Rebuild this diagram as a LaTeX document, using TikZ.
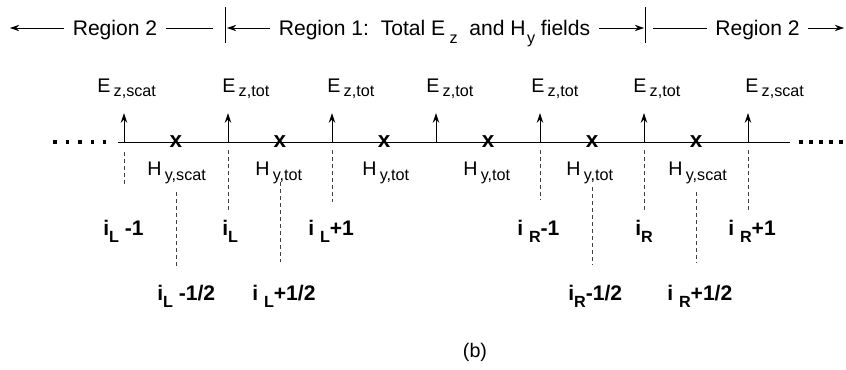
\documentclass[tikz,border=0pt]{standalone}
\usepackage{fontspec}
\setmainfont{Liberation Sans}
\usepackage{tikz}
\usetikzlibrary{arrows.meta,calc}
\newcommand{\sub}[2][0.45ex]{\raisebox{-#1}{\fontsize{11.5}{12}\selectfont #2}}

\begin{document}
\begin{tikzpicture}[x=0.025cm,y=-0.025cm,
  every node/.style={font=\fontsize{14}{16}\selectfont,inner sep=0pt},
  top/.style={font=\fontsize{15}{18}\selectfont,anchor=base,inner xsep=6pt},
  lab/.style={anchor=base west},
  idx/.style={font=\fontsize{15}{17}\selectfont\bfseries,anchor=base west},
  cross/.style={font=\fontsize{16}{18}\selectfont\bfseries},
  arr/.style={-{Stealth[length=6.5pt,width=4.5pt]},line width=0.6pt},
  earr/.style={-{Stealth[length=7pt,width=4.6pt]},line width=0.7pt},
  dsh/.style={dash pattern=on 2.5pt off 2.5pt,line width=0.6pt,black!75},
  dotrow/.style={line width=2.6pt}]
\useasboundingbox (0,0) rectangle (846,369);
% region bar
\coordinate (tipL) at (10,28);
\coordinate (bL)   at (225,28);
\coordinate (bR)   at (645,28);
\coordinate (tipR) at (844,28);
\node[top] (regL)  at (115,35)   {Region 2};
\node[top] (title) at (434.5,35) {Region 1:\ \ Total E\hspace{3pt}\sub[0.75ex]{z}\ \ and H\hspace{1pt}\sub[0.75ex]{y} fields};
\node[top] (regR)  at (757.5,35) {Region 2};
\draw[line width=0.7pt] ($(bL)+(0,-21)$) -- ($(bL)+(0,15)$);
\draw[line width=0.7pt] ($(bR)+(0,-21)$) -- ($(bR)+(0,15)$);
\draw[arr] (regL.west |- bL) -- (tipL);
\draw[line width=0.5pt] (regL.east |- bL) -- ($(bL)+(-12,0)$);
\draw[arr] (title.west |- bL) -- ($(bL)+(2,0)$);
\draw[arr] (title.east |- bR) -- ($(bR)+(-1,0)$);
\draw[line width=0.5pt] (regR.west |- bR) -- ($(bR)+(8,0)$);
\draw[arr] (regR.east |- bR) -- (tipR);
% grid points
\coordinate (e0) at (124,142);
\coordinate (e1) at (228,142);
\coordinate (e2) at (332,142);
\coordinate (e3) at (436,142);
\coordinate (e4) at (540,142);
\coordinate (e5) at (644,142);
\coordinate (e6) at (748,142);
\coordinate (h0) at (176,142);
\coordinate (h1) at (280,142);
\coordinate (h2) at (384,142);
\coordinate (h3) at (488,142);
\coordinate (h4) at (592,142);
\coordinate (h5) at (696,142);
\coordinate (axL) at (118,142);
\coordinate (axR) at (790,142);
\draw[line width=0.6pt] (axL) -- (axR);
\draw[dotrow,dash pattern=on 2.6pt off 6.3pt] (53,142) -- (106,142);
\draw[dotrow,dash pattern=on 2.6pt off 4.5pt] (799,142) -- (846,142);
% E arrows
\draw[earr] (e0) -- ($(e0)+(0,-29)$);
\draw[earr] (e1) -- ($(e1)+(0,-29)$);
\draw[earr] (e2) -- ($(e2)+(0,-29)$);
\draw[earr] (e3) -- ($(e3)+(0,-29)$);
\draw[earr] (e4) -- ($(e4)+(0,-29)$);
\draw[earr] (e5) -- ($(e5)+(0,-29)$);
\draw[earr] (e6) -- ($(e6)+(0,-29)$);
\node[lab] (E0) at (97,92)  {E\,\sub{z,scat}};
\node[lab] (E1) at (222,92) {E\,\sub{z,tot}};
\node[lab] (E2) at (327,92) {E\,\sub{z,tot}};
\node[lab] (E3) at (426,92) {E\,\sub{z,tot}};
\node[lab] (E4) at (531,92) {E\,\sub{z,tot}};
\node[lab] (E5) at (633,92) {E\,\sub{z,tot}};
\node[lab] (E6) at (745,92) {E\,\sub{z,scat}};
% H points
\node[cross] (x0) at (h0) {x};
\node[cross] (x1) at (h1) {x};
\node[cross] (x2) at (h2) {x};
\node[cross] (x3) at (h3) {x};
\node[cross] (x4) at (h4) {x};
\node[cross] (x5) at (h5) {x};
\node[lab] (H0) at (147,175) {H\,\sub[0.55ex]{y,scat}};
\node[lab] (H1) at (255,175) {H\,\sub[0.55ex]{y,tot}};
\node[lab] (H2) at (362,175) {H\,\sub[0.55ex]{y,tot}};
\node[lab] (H3) at (463,175) {H\,\sub[0.55ex]{y,tot}};
\node[lab] (H4) at (566,175) {H\,\sub[0.55ex]{y,tot}};
\node[lab] (H5) at (668,175) {H\,\sub[0.55ex]{y,scat}};
% index guides
\draw[dsh] ($(e0)+(0,10)$) -- ($(e0)+(0,45)$);
\draw[dsh] ($(e1)+(0,8)$)  -- ($(e1)+(0,68)$);
\draw[dsh] ($(e2)+(0,8)$)  -- ($(e2)+(0,60)$);
\draw[dsh] ($(e4)+(0,8)$)  -- ($(e4)+(0,58)$);
\draw[dsh] ($(e5)+(0,8)$)  -- ($(e5)+(0,70)$);
\draw[dsh] ($(e6)+(0,8)$)  -- ($(e6)+(0,71)$);
\draw[dsh] ($(h0)+(0,50)$) -- ($(h0)+(0,126)$);
\draw[dsh] ($(h1)+(0,40)$) -- ($(h1)+(0,120)$);
\draw[dsh] ($(h4)+(0,45)$) -- ($(h4)+(0,123)$);
\draw[dsh] ($(h5)+(0,50)$) -- ($(h5)+(0,121)$);
\node[idx] (iLm1) at (103,235) {i\sub[0.7ex]{L} -1};
\node[idx] (iL0)  at (222,235) {i\sub[0.7ex]{L}};
\node[idx] (iLp1) at (308,235) {i \sub[0.7ex]{L}+1};
\node[idx] (iRm1) at (517,235) {i \sub[0.7ex]{R}-1};
\node[idx] (iR0)  at (635,235) {i\sub[0.7ex]{R}};
\node[idx] (iRp1) at (728,235) {i \sub[0.7ex]{R}+1};
\node[idx] (iLmh) at (157,300) {i\sub[0.7ex]{L} -1/2};
\node[idx] (iLph) at (252,300) {i \sub[0.7ex]{L}+1/2};
\node[idx] (iRmh) at (568,300) {i\sub[0.7ex]{R}-1/2};
\node[idx] (iRph) at (667,300) {i \sub[0.7ex]{R}+1/2};
\node[font=\fontsize{14}{16}\selectfont] (cap) at (475,352) {(b)};
\end{tikzpicture}
\end{document}
